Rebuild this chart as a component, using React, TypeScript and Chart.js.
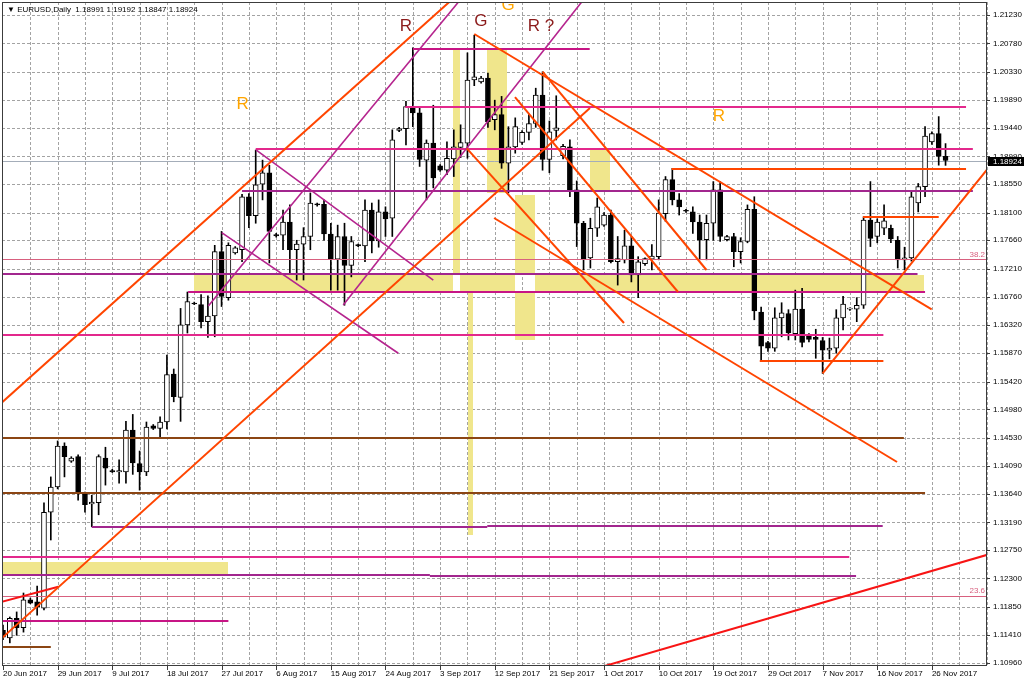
import React, { useEffect, useRef } from 'react';
import { Chart, registerables } from 'chart.js';
Chart.register(...registerables);

// ---------- DATA ----------
const symbolTitle = '\u25BC EURUSD,Daily  1.18991 1.19192 1.18847 1.18924';

const dateLabels = ['20 Jun 2017', '29 Jun 2017', '9 Jul 2017', '18 Jul 2017', '27 Jul 2017', '6 Aug 2017', '15 Aug 2017', '24 Aug 2017', '3 Sep 2017', '12 Sep 2017', '21 Sep 2017', '1 Oct 2017', '10 Oct 2017', '19 Oct 2017', '29 Oct 2017', '7 Nov 2017', '16 Nov 2017', '26 Nov 2017'];

const yTicks = [1.10960, 1.11410, 1.11850, 1.12300, 1.12750, 1.13190, 1.13640, 1.14090, 1.14530, 1.14980, 1.15420, 1.15870, 1.16320, 1.16760, 1.17210, 1.17660, 1.18100, 1.18550, 1.18990, 1.19440, 1.19890, 1.20330, 1.20780, 1.21230];

const opens = [
  1.1148, 1.1136, 1.1167, 1.1152, 1.1196, 1.1193, 1.1183, 1.1335, 1.1375, 1.1440,
  1.1416, 1.1423, 1.1365, 1.1348, 1.1350, 1.1421, 1.1401, 1.1399, 1.1399, 1.1465,
  1.1412, 1.1399, 1.1472, 1.1468, 1.1478, 1.1554, 1.1517, 1.1632, 1.1666, 1.1664,
  1.1637, 1.1646, 1.1748, 1.1675, 1.1746, 1.1751, 1.1835, 1.1805, 1.1855, 1.1873,
  1.1775, 1.1774, 1.1795, 1.1751, 1.1760, 1.1772, 1.1823, 1.1823, 1.1776, 1.1736,
  1.1772, 1.1726, 1.1759, 1.1757, 1.1814, 1.1765, 1.1811, 1.1801, 1.1940, 1.1943,
  1.1976, 1.1968, 1.1893, 1.1920, 1.1884, 1.1877, 1.1895, 1.1913, 1.1920, 1.2020,
  1.2017, 1.2023, 1.1957, 1.1965, 1.1888, 1.1914, 1.1921, 1.1937, 1.1951, 1.1996,
  1.1894, 1.1940, 1.1900, 1.1914, 1.1846, 1.1793, 1.1738, 1.1785, 1.1790, 1.1806,
  1.1732, 1.1735, 1.1757, 1.1711, 1.1729, 1.1736, 1.1740, 1.1808, 1.1862, 1.1830,
  1.1813, 1.1811, 1.1795, 1.1767, 1.1793, 1.1846, 1.1767, 1.1772, 1.1748, 1.1764,
  1.1815, 1.1652, 1.1604, 1.1595, 1.1643, 1.1650, 1.1618, 1.1657, 1.1615, 1.1612,
  1.1607, 1.1592, 1.1595, 1.1643, 1.1657, 1.1657, 1.1663, 1.1798, 1.1772, 1.1785,
  1.1785, 1.1766, 1.1735, 1.1738, 1.1825, 1.1851, 1.1922, 1.1935, 1.18991];

const highs = [
  1.1156, 1.1169, 1.1177, 1.1207, 1.1199, 1.1218, 1.1350, 1.1391, 1.1448, 1.1445,
  1.1423, 1.1426, 1.1367, 1.1362, 1.1426, 1.1438, 1.1403, 1.1418, 1.1479, 1.1490,
  1.1432, 1.1478, 1.1474, 1.1486, 1.1584, 1.1562, 1.1658, 1.1684, 1.1668, 1.1680,
  1.1678, 1.1758, 1.1780, 1.1762, 1.1756, 1.1839, 1.1840, 1.1909, 1.1893, 1.1885,
  1.1777, 1.1814, 1.1822, 1.1766, 1.1786, 1.1841, 1.1825, 1.1830, 1.1793, 1.1790,
  1.1793, 1.1772, 1.1760, 1.1830, 1.1825, 1.1830, 1.1819, 1.1941, 1.1945, 1.1986,
  1.2071, 1.1976, 1.1925, 1.1980, 1.1886, 1.1922, 1.1941, 1.1949, 1.2063, 1.2091,
  1.2026, 1.2031, 1.1988, 1.1994, 1.1946, 1.1960, 1.1940, 1.1965, 1.2007, 1.2033,
  1.1955, 1.1995, 1.1918, 1.1925, 1.1860, 1.1796, 1.1801, 1.1833, 1.1810, 1.1814,
  1.1772, 1.1782, 1.1772, 1.1740, 1.1738, 1.1759, 1.1830, 1.1867, 1.1880, 1.1840,
  1.1815, 1.1819, 1.1806, 1.1806, 1.1859, 1.1859, 1.1774, 1.1777, 1.1770, 1.1822,
  1.1835, 1.1660, 1.1606, 1.1659, 1.1667, 1.1656, 1.1687, 1.1690, 1.1618, 1.1625,
  1.1612, 1.1611, 1.1656, 1.1677, 1.1659, 1.1675, 1.1803, 1.1859, 1.1800, 1.1822,
  1.1790, 1.1772, 1.1755, 1.1843, 1.1856, 1.1946, 1.1938, 1.1962, 1.19192];

const lows = [
  1.1133, 1.1128, 1.1140, 1.1145, 1.1190, 1.1172, 1.1180, 1.1291, 1.1372, 1.1391,
  1.1414, 1.1354, 1.1335, 1.1312, 1.1331, 1.1378, 1.1398, 1.1381, 1.1381, 1.1395,
  1.1370, 1.1393, 1.1466, 1.1452, 1.1467, 1.1510, 1.1479, 1.1619, 1.1664, 1.1627,
  1.1612, 1.1613, 1.1661, 1.1671, 1.1744, 1.1732, 1.1786, 1.1793, 1.1830, 1.1730,
  1.1771, 1.1751, 1.1714, 1.1703, 1.1703, 1.1751, 1.1820, 1.1766, 1.1687, 1.1687,
  1.1663, 1.1708, 1.1756, 1.1732, 1.1746, 1.1755, 1.1772, 1.1772, 1.1938, 1.1917,
  1.1946, 1.1883, 1.1830, 1.1849, 1.1875, 1.1870, 1.1867, 1.1897, 1.1896, 1.2011,
  1.2015, 1.1945, 1.1941, 1.1880, 1.1841, 1.1904, 1.1918, 1.1925, 1.1945, 1.1877,
  1.1873, 1.1925, 1.1895, 1.1835, 1.1756, 1.1719, 1.1722, 1.1772, 1.1788, 1.1730,
  1.1695, 1.1730, 1.1700, 1.1675, 1.1726, 1.1719, 1.1735, 1.1796, 1.1822, 1.1806,
  1.1810, 1.1777, 1.1735, 1.1735, 1.1766, 1.1764, 1.1765, 1.1724, 1.1730, 1.1762,
  1.1640, 1.1576, 1.1590, 1.1590, 1.1613, 1.1608, 1.1608, 1.1597, 1.1605, 1.1579,
  1.1555, 1.1578, 1.1587, 1.1624, 1.1655, 1.1637, 1.1658, 1.1756, 1.1762, 1.1775,
  1.1762, 1.1722, 1.1719, 1.1733, 1.1811, 1.1835, 1.1918, 1.1885, 1.18847];

const closes = [
  1.1137, 1.1167, 1.1152, 1.1196, 1.1191, 1.1185, 1.1335, 1.1375, 1.1440, 1.1423,
  1.1421, 1.1365, 1.1347, 1.1351, 1.1423, 1.1405, 1.1399, 1.1401, 1.1465, 1.1413,
  1.1399, 1.1470, 1.1468, 1.1478, 1.1553, 1.1518, 1.1632, 1.1669, 1.1665, 1.1637,
  1.1646, 1.1748, 1.1677, 1.1758, 1.1754, 1.1835, 1.1805, 1.1854, 1.1873, 1.1780,
  1.1773, 1.1795, 1.1751, 1.1760, 1.1772, 1.1825, 1.1822, 1.1776, 1.1736, 1.1772,
  1.1726, 1.1764, 1.1757, 1.1814, 1.1765, 1.1811, 1.1800, 1.1925, 1.1943, 1.1978,
  1.1968, 1.1894, 1.1920, 1.1865, 1.1877, 1.1896, 1.1914, 1.1921, 1.2020, 1.2025,
  1.2023, 1.1954, 1.1965, 1.1888, 1.1914, 1.1946, 1.1937, 1.1951, 1.1996, 1.1894,
  1.1938, 1.1944, 1.1915, 1.1846, 1.1793, 1.1737, 1.1785, 1.1819, 1.1806, 1.1732,
  1.1737, 1.1757, 1.1711, 1.1732, 1.1737, 1.1741, 1.1809, 1.1862, 1.1830, 1.1819,
  1.1812, 1.1795, 1.1766, 1.1793, 1.1846, 1.1772, 1.1772, 1.1748, 1.1764, 1.1815,
  1.1654, 1.1598, 1.1595, 1.1643, 1.1651, 1.1619, 1.1657, 1.1604, 1.1609, 1.1609,
  1.1592, 1.1595, 1.1643, 1.1665, 1.1658, 1.1663, 1.1798, 1.1769, 1.1795, 1.1797,
  1.1768, 1.1735, 1.1738, 1.1835, 1.1851, 1.1931, 1.1935, 1.1899, 1.18924];

// trend lines: [barFrom, priceFrom, barTo, priceTo]
const orangeTrends = [
  [-0.2, 1.15086, 68.4, 1.21732],
  [-0.2, 1.11352, 85.94, 1.19756],
  [69.0, 1.20929, 135.97, 1.16566],
  [71.9, 1.18013, 130.9, 1.14146],
  [67.9, 1.19117, 90.92, 1.16349],
  [79.0, 1.20331, 103.0, 1.17189],
  [74.96, 1.19930, 98.83, 1.16840],
  [120.0, 1.15552, 145.0, 1.18903],
];
const redTrends = [
  [88.0, 1.10910, 145.0, 1.12703],
  [-0.5, 1.11922, 8.1, 1.12170],
];
const violetTrends = [
  [30.06, 1.16618, 68.37, 1.21658],
  [49.82, 1.16634, 86.34, 1.21658],
  [37.04, 1.19091, 63.0, 1.17030],
  [32.02, 1.17780, 57.88, 1.15869],
];

// horizontal levels: [barFrom, barTo, price]
const pinkLevels = [[58.9, 141.0, 1.19767], [37.0, 142.0, 1.19106], [-0.2, 128.9, 1.16154], [-0.2, 123.9, 1.12645]];
const magentaLevels = [[60.0, 85.9, 1.20691], [27.1, 135.0, 1.16845], [-0.2, 33.0, 1.11626]];
const purpleLevels = [[35.0, 142.0, 1.18441], [-0.2, 133.9, 1.17125], [13.0, 70.9, 1.13121], [70.9, 128.8, 1.13137], [-0.2, 62.5, 1.12355], [62.5, 124.9, 1.12339]];
const brownLevels = [[-0.2, 131.9, 1.14534], [-0.2, 135.0, 1.13659], [-0.2, 7.0, 1.11219]];
const orangeLevels = [[97.9, 141.0, 1.18785], [125.9, 137.0, 1.18034], [110.8, 128.9, 1.15751]];
const fibLevels = [[-0.2, 144.1, 1.17358], [-0.2, 144.1, 1.12022]];
const fibLabels = ['38.2', '23.6'];

// shaded zones: [barFrom, barTo, priceTop, priceBottom]
const zones = [
  [28.0, 134.9, 1.17110, 1.16861],
  [65.93, 66.91, 1.20675, 1.16861],
  [68.04, 68.86, 1.16824, 1.12989],
  [70.82, 73.75, 1.20702, 1.18404],
  [74.96, 77.89, 1.18377, 1.16079],
  [85.94, 88.87, 1.19091, 1.18430],
  [-0.2, 32.99, 1.12566, 1.12371],
];

// text marks: [text, bar, price]
const orangeNotes = [['R', 35.07, 1.19819], ['G', 73.94, 1.21381], ['R', 104.83, 1.19625]];
const redNotes = [['R', 58.97, 1.21056], ['G', 69.96, 1.21135], ['R ?', 78.77, 1.21056]];

const X_MIN = -0.1464;
const X_MAX = 144.07;
const Y_MIN = 1.10929;
const Y_MAX = 1.21436;
const FONT = "'Liberation Sans', Arial, sans-serif";

const mt4Plugin = {
  id: 'mt4',
  beforeDatasetsDraw(chart: any) {
    const { ctx, chartArea: a, scales } = chart;
    const xs = scales.x, ys = scales.y;
    ctx.save();
    // grid
    ctx.strokeStyle = '#a3a3a3';
    ctx.lineWidth = 1;
    ctx.setLineDash([3, 2]);
    ctx.beginPath();
    yTicks.forEach((v) => {
      const py = Math.round(ys.getPixelForValue(v)) + 0.5;
      ctx.moveTo(a.left, py); ctx.lineTo(a.right, py);
    });
    for (let b = 4; b < X_MAX; b += 4) {
      const px = Math.round(xs.getPixelForValue(b)) + 0.5;
      ctx.moveTo(px, a.top); ctx.lineTo(px, a.bottom);
    }
    ctx.stroke();
    ctx.setLineDash([]);
    // zones (xor like MT4)
    const r = chart.currentDevicePixelRatio || 1;
    const off = document.createElement('canvas');
    off.width = chart.canvas.width; off.height = chart.canvas.height;
    const o = off.getContext('2d')!;
    o.scale(r, r);
    o.globalCompositeOperation = 'xor';
    o.fillStyle = '#F0E68C';
    zones.forEach(([b1, b2, p1, p2]) => {
      const x1 = Math.round(xs.getPixelForValue(b1)), x2 = Math.round(xs.getPixelForValue(b2));
      const y1 = Math.round(ys.getPixelForValue(p1)), y2 = Math.round(ys.getPixelForValue(p2));
      o.fillRect(x1, y1, x2 - x1, y2 - y1);
    });
    ctx.beginPath();
    ctx.rect(a.left, a.top, a.right - a.left, a.bottom - a.top);
    ctx.clip();
    ctx.drawImage(off, 0, 0, chart.width, chart.height);
    // last price line
    const lp = Math.round(ys.getPixelForValue(closes[closes.length - 1])) + 0.5;
    ctx.strokeStyle = '#a4adb9';
    ctx.beginPath(); ctx.moveTo(a.left, lp); ctx.lineTo(a.right, lp); ctx.stroke();
    ctx.restore();
  },
  afterDatasetsDraw(chart: any) {
    const { ctx, chartArea: a, scales } = chart;
    const xs = scales.x, ys = scales.y;
    ctx.save();
    ctx.beginPath();
    ctx.rect(a.left, a.top, a.right - a.left, a.bottom - a.top);
    ctx.clip();
    ctx.lineCap = 'butt';
    const seg = (list: number[][], color: string, w: number) => {
      ctx.strokeStyle = color; ctx.lineWidth = w;
      list.forEach(([b1, p1, b2, p2]) => {
        ctx.beginPath();
        ctx.moveTo(xs.getPixelForValue(b1), ys.getPixelForValue(p1));
        ctx.lineTo(xs.getPixelForValue(b2), ys.getPixelForValue(p2));
        ctx.stroke();
      });
    };
    const lev = (list: number[][], color: string, w: number) => {
      ctx.strokeStyle = color; ctx.lineWidth = w;
      list.forEach(([b1, b2, p]) => {
        const py = Math.round(ys.getPixelForValue(p)) + (w % 2 ? 0.5 : 0);
        ctx.beginPath();
        ctx.moveTo(xs.getPixelForValue(b1), py);
        ctx.lineTo(xs.getPixelForValue(b2), py);
        ctx.stroke();
      });
    };
    lev(fibLevels, '#d8607f', 1);
    lev(brownLevels, '#8b4513', 2);
    lev(pinkLevels, '#e3288c', 2);
    lev(magentaLevels, '#c71585', 2);
    lev(purpleLevels, '#a2268e', 2);
    lev(orangeLevels, '#ff4500', 2);
    seg(violetTrends, '#b5248e', 1.6);
    seg(redTrends, '#f81414', 2);
    seg(orangeTrends, '#ff4500', 2);
    // notes
    ctx.font = `17px ${FONT}`;
    ctx.textAlign = 'center';
    ctx.textBaseline = 'middle';
    ctx.fillStyle = '#ffa500';
    orangeNotes.forEach(([t, b, p]: any) => ctx.fillText(t, xs.getPixelForValue(b), ys.getPixelForValue(p)));
    ctx.fillStyle = '#8b1a1a';
    redNotes.forEach(([t, b, p]: any) => ctx.fillText(t, xs.getPixelForValue(b), ys.getPixelForValue(p)));
    // fib labels
    ctx.font = `8px ${FONT}`;
    ctx.textAlign = 'right';
    ctx.textBaseline = 'bottom';
    ctx.fillStyle = '#d8607f';
    fibLevels.forEach(([b1, b2, p], i) => ctx.fillText(fibLabels[i], a.right - 2, ys.getPixelForValue(p) - 1));
    ctx.restore();

    // frame
    ctx.save();
    ctx.strokeStyle = '#3c3c3c';
    ctx.lineWidth = 1;
    ctx.strokeRect(a.left + 0.5, a.top + 0.5, a.right - a.left - 1, a.bottom - a.top);
    // tick marks
    ctx.beginPath();
    yTicks.forEach((v) => {
      const py = Math.round(ys.getPixelForValue(v)) + 0.5;
      ctx.moveTo(a.right, py); ctx.lineTo(a.right + 3, py);
    });
    dateLabels.forEach((_, k) => {
      const px = Math.round(xs.getPixelForValue(k * 8)) + 0.5;
      ctx.moveTo(px, a.bottom); ctx.lineTo(px, a.bottom + 5);
    });
    ctx.stroke();
    // title
    ctx.font = `8px ${FONT}`;
    ctx.fillStyle = '#000';
    ctx.textAlign = 'left';
    ctx.textBaseline = 'middle';
    ctx.fillText(symbolTitle, a.left + 5, a.top + 8);
    // price box
    const last = closes[closes.length - 1];
    const lp = Math.round(ys.getPixelForValue(last));
    ctx.fillStyle = '#000';
    ctx.fillRect(a.right + 1, lp - 4, chart.width - a.right - 1, 9);
    ctx.fillStyle = '#fff';
    ctx.fillText(last.toFixed(5), a.right + 6, lp + 0.5);
    ctx.restore();
  },
};

export default function App() {
  const ref = useRef<HTMLCanvasElement>(null);
  useEffect(() => {
    document.body.style.margin = '0';
    const canvas = ref.current!;
    const bodies = opens.map((o, i) => ({ x: i, y: [o, closes[i]] }));
    const wicks = opens.map((o, i) => ({ x: i, y: [lows[i], highs[i]] }));
    const fills = opens.map((o, i) => (closes[i] >= o ? '#ffffff' : '#000000'));
    const chart = new Chart(canvas, {
      type: 'bar',
      data: {
        datasets: [
          { data: bodies as any, backgroundColor: fills, borderColor: '#000', borderWidth: 1, borderSkipped: false, barThickness: 5, minBarLength: 1, grouped: false, order: 0 } as any,
          { data: wicks as any, backgroundColor: '#000', borderWidth: 0, barThickness: 1, minBarLength: 1, grouped: false, order: 1 } as any,
        ],
      },
      options: {
        responsive: false,
        animation: false,
        events: [],
        layout: { padding: { left: 2, top: 2, right: 0, bottom: 0 } },
        plugins: { legend: { display: false }, tooltip: { enabled: false } },
        scales: {
          x: {
            type: 'linear', min: X_MIN, max: X_MAX, offset: false,
            grid: { display: false, drawTicks: false, offset: false },
            border: { display: false },
            afterBuildTicks: (s: any) => { s.ticks = dateLabels.map((_, k) => ({ value: k * 8 })); },
            afterFit: (s: any) => { s.height = 18; s.paddingLeft = 0; s.paddingRight = 0; s.paddingTop = 0; s.paddingBottom = 0; },
            ticks: {
              autoSkip: false, maxRotation: 0, minRotation: 0, align: 'start', padding: 4, color: '#000',
              font: { family: FONT, size: 8 },
              callback: (v: any) => dateLabels[Math.round(Number(v) / 8)] ?? '',
            },
          } as any,
          y: {
            type: 'linear', position: 'right', min: Y_MIN, max: Y_MAX, beginAtZero: false,
            grid: { display: false, drawTicks: false },
            border: { display: false },
            afterBuildTicks: (s: any) => { s.ticks = yTicks.map((v) => ({ value: v })); },
            afterFit: (s: any) => { s.width = 37; s.paddingTop = 0; s.paddingBottom = 0; s.paddingLeft = 0; s.paddingRight = 0; },
            ticks: {
              autoSkip: false, padding: 6, color: '#000',
              font: { family: FONT, size: 8 },
              callback: (v: any) => Number(v).toFixed(5),
            },
          } as any,
        },
      },
      plugins: [mt4Plugin],
    });
    return () => chart.destroy();
  }, []);
  return (
    <div style={{ position: 'absolute', left: 0, top: 0, width: 1024, height: 683, background: '#fff' }}>
      <canvas ref={ref} width={1024} height={683} style={{ display: 'block', width: 1024, height: 683 }} />
    </div>
  );
}
